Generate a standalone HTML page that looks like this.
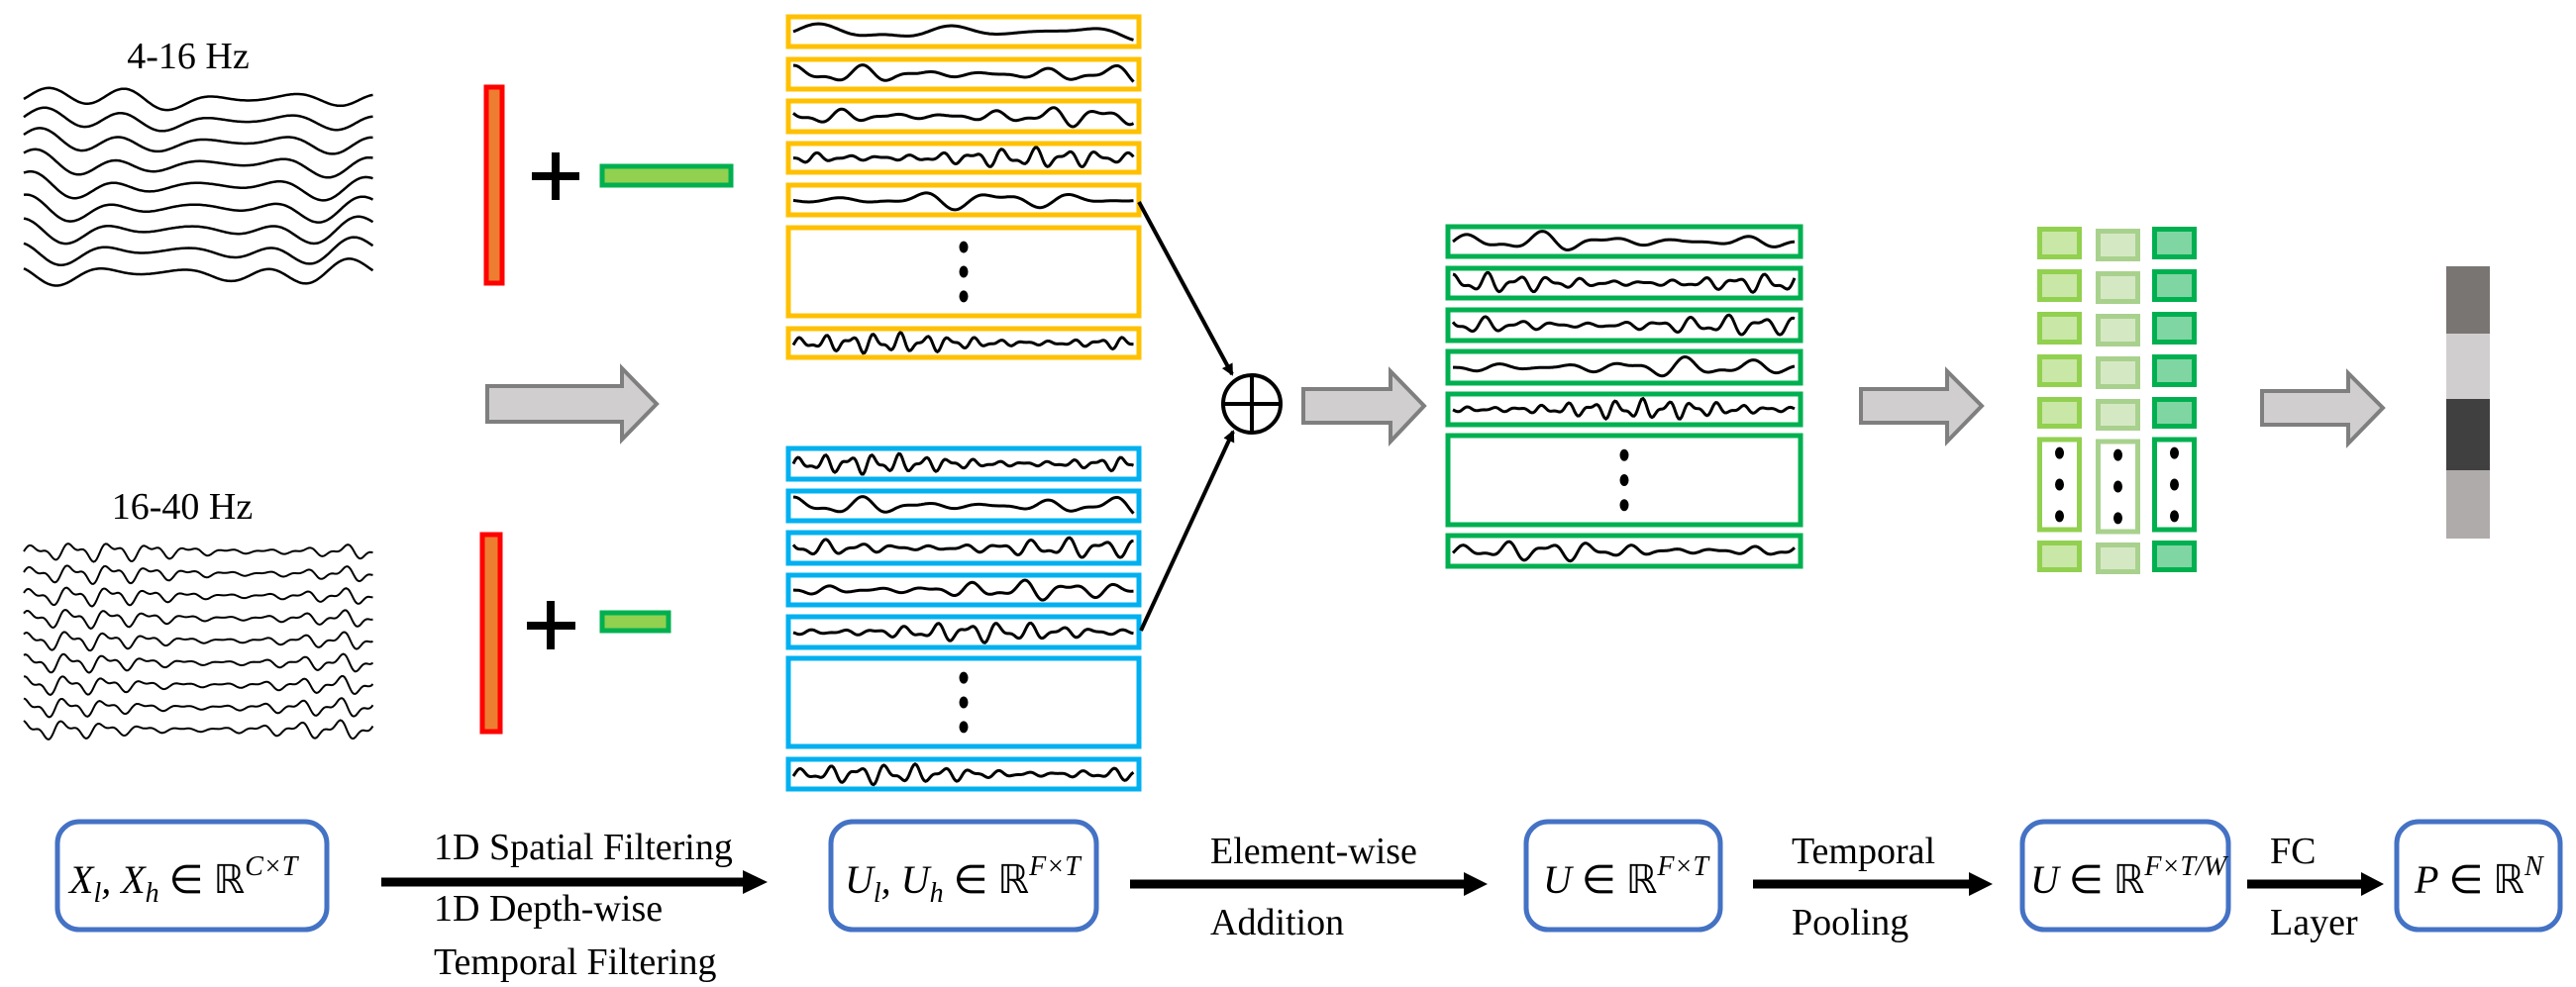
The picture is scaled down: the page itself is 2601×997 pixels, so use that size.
<!DOCTYPE html>
<html><head><meta charset="utf-8">
<style>
html,body{margin:0;padding:0;background:#fff;}
body{width:2601px;height:997px;overflow:hidden;position:relative;font-family:"Liberation Serif",serif;}
svg{position:absolute;left:0;top:0;}
.t{font-family:"Liberation Serif",serif;font-size:38px;fill:#000;}
.m{font-family:"Liberation Serif",serif;font-size:40px;font-style:italic;fill:#000;}
</style></head><body>
<svg id="s" width="2601" height="997" viewBox="0 0 2601 997" xmlns="http://www.w3.org/2000/svg">
<defs>
<marker id="ah" markerWidth="12" markerHeight="12" refX="10" refY="6" orient="auto" markerUnits="userSpaceOnUse"><path d="M0,0 L12,6 L0,12 z" fill="#000"/></marker>
</defs>
<g id="waves" fill="none" stroke="#000" stroke-width="2.5"></g>
<text class="t" x="190" y="69" text-anchor="middle" font-size="40">4-16 Hz</text>
<text class="t" x="184" y="524" text-anchor="middle" font-size="40">16-40 Hz</text>
<rect x="491" y="88" width="16" height="198" fill="#ed7d31" stroke="#ff0000" stroke-width="5"/>
<rect x="487" y="540" width="18" height="199" fill="#ed7d31" stroke="#ff0000" stroke-width="5"/>
<path d="M537,178 H585 M561,154 V202" stroke="#000" stroke-width="8"/>
<path d="M532,632 H581 M556,607 V656" stroke="#000" stroke-width="8"/>
<rect x="608" y="168" width="130" height="19" fill="#92d050" stroke="#00b050" stroke-width="5"/>
<rect x="608" y="619" width="67" height="18" fill="#92d050" stroke="#00b050" stroke-width="5"/>
<g fill="#d0cece" stroke="#7f7f7f" stroke-width="4">
<path d="M492,390 H628 V372 L663,408 L628,444 V426 H492 z"/>
<path d="M1316,393 H1404 V375 L1438,410 L1404,446 V427 H1316 z"/>
<path d="M1879,393 H1966 V375 L2001,410 L1966,446 V427 H1879 z"/>
<path d="M2284,395 H2371 V377 L2406,412 L2371,448 V429 H2284 z"/>
</g>
<g id="boxes" fill="none" stroke-width="5"></g>
<line x1="1150" y1="204" x2="1244" y2="378" stroke="#000" stroke-width="4" marker-end="url(#ah)"/>
<line x1="1152" y1="637" x2="1245" y2="436" stroke="#000" stroke-width="4" marker-end="url(#ah)"/>
<circle cx="1264" cy="408" r="29" fill="#fff" stroke="#000" stroke-width="4"/>
<path d="M1235,408 H1293 M1264,379 V437" stroke="#000" stroke-width="4"/>
<g id="sq"></g>
<rect x="2470" y="269" width="44" height="68" fill="#797573"/>
<rect x="2470" y="337" width="44" height="66" fill="#d0cece"/>
<rect x="2470" y="403" width="44" height="72" fill="#404040"/>
<rect x="2470" y="475" width="44" height="69" fill="#afabab"/>
<g fill="#fff" stroke="#4472c4" stroke-width="5">
<rect x="58" y="830" width="272" height="109" rx="22"/>
<rect x="839" y="830" width="268" height="109" rx="22"/>
<rect x="1541" y="830" width="196" height="109" rx="22"/>
<rect x="2042" y="830" width="208" height="109" rx="22"/>
<rect x="2420" y="830" width="165" height="109" rx="22"/>
</g>
<g stroke="#000" stroke-width="9">
<line x1="385" y1="891" x2="752" y2="891"/>
<line x1="1141" y1="893" x2="1480" y2="893"/>
<line x1="1770" y1="893" x2="1990" y2="893"/>
<line x1="2269" y1="893" x2="2386" y2="893"/>
</g>
<g fill="#000">
<path d="M750,879 L775,891 L750,903 z"/>
<path d="M1478,881 L1502,893 L1478,905 z"/>
<path d="M1988,881 L2012,893 L1988,905 z"/>
<path d="M2384,881 L2407,893 L2384,905 z"/>
</g>
<text class="t" x="438" y="868">1D Spatial Filtering</text>
<text class="t" x="438" y="930">1D Depth-wise</text>
<text class="t" x="438" y="984">Temporal Filtering</text>
<text class="t" x="1222" y="872">Element-wise</text>
<text class="t" x="1222" y="944">Addition</text>
<text class="t" x="1809" y="872">Temporal</text>
<text class="t" x="1809" y="944">Pooling</text>
<text class="t" x="2292" y="872">FC</text>
<text class="t" x="2292" y="944">Layer</text>
<text class="m" x="70" y="902">X<tspan font-size="28" dy="9">l</tspan><tspan dy="-9">, X</tspan><tspan font-size="28" dy="9">h</tspan><tspan dy="-9" font-style="normal"> ∈ ℝ</tspan><tspan font-size="28" dy="-18">C×T</tspan></text>
<text class="m" x="853" y="902">U<tspan font-size="28" dy="9">l</tspan><tspan dy="-9">, U</tspan><tspan font-size="28" dy="9">h</tspan><tspan dy="-9" font-style="normal"> ∈ ℝ</tspan><tspan font-size="28" dy="-18">F×T</tspan></text>
<text class="m" x="1558" y="902">U<tspan font-style="normal"> ∈ ℝ</tspan><tspan font-size="28" dy="-18">F×T</tspan></text>
<text class="m" x="2050" y="902">U<tspan font-style="normal"> ∈ ℝ</tspan><tspan font-size="28" dy="-18">F×T/W</tspan></text>
<text class="m" x="2438" y="902">P<tspan font-style="normal"> ∈ ℝ</tspan><tspan font-size="28" dy="-18">N</tspan></text>
</svg>
<script>
(function(){
var NS="http://www.w3.org/2000/svg";
function el(p,tag,a){var e=document.createElementNS(NS,tag);for(var k in a)e.setAttribute(k,a[k]);p.appendChild(e);return e;}
var W=document.getElementById('waves'),B=document.getElementById('boxes'),S=document.getElementById('sq');
function wave(x0,x1,y,amp,f1,f2,ph,sw){var d="";for(var x=x0;x<=x1;x+=1.5){var t=(x-x0);var v=Math.sin(t*f1+ph)*0.7+Math.sin(t*f2+ph*2)*0.4;var env=0.6+0.4*Math.sin(t*0.02+ph);d+=(x==x0?"M":"L")+x.toFixed(1)+","+(y-v*amp*env).toFixed(1);}
el(W,'path',{d:d,'stroke-width':sw||2.5});}
for(var i=0;i<9;i++){wave(24,377,100+i*22,15,0.075,0.03,i*0.25,2.5);}
for(var i=0;i<9;i++){wave(24,377,557+i*22.5,10,0.16,0.33,i*0.15,2);}
function rows(col,ys,x0,x1,dotRow,freqs){ys.forEach(function(y,i){el(B,'rect',{x:x0,y:y[0],width:x1-x0,height:y[1]-y[0],stroke:col});
if(i==dotRow){var cx=(x0+x1)/2;[0.22,0.5,0.78].forEach(function(f){el(B,'ellipse',{cx:cx,cy:y[0]+(y[1]-y[0])*f,rx:4.5,ry:6,fill:'#000',stroke:'none'});});}
else{var f=freqs[i%freqs.length];wave(x0+5,x1-5,(y[0]+y[1])/2,10,f,f*1.7,i,3);}});}
rows('#ffc000',[[17,47],[60,90],[102,133],[145,174],[187,217],[230,319],[332,361]],796,1150,5,[0.05,0.1,0.12,0.2,0.08,0,0.25]);
rows('#00b0f0',[[453,484],[496,526],[538,569],[581,611],[623,654],[665,754],[767,797]],796,1150,5,[0.25,0.1,0.18,0.13,0.2,0,0.22]);
rows('#00b050',[[229,259],[271,301],[313,344],[355,387],[398,429],[440,530],[541,572]],1462,1818,5,[0.09,0.2,0.18,0.1,0.25,0,0.15]);
var cols=[[2057,'#92d050','#c9e7a6'],[2116,'#a9d18e','#d5e8c4'],[2173,'#00b050','#7fd6a2']];
var rws=[[229,262],[272,305],[315,348],[358,391],[401,433],[444,535],[546,578]];
cols.forEach(function(c,ci){var off=ci==1?2:0;rws.forEach(function(y,i){
if(i==5){el(S,'rect',{x:c[0]+2.5,y:y[0]+off,width:40,height:y[1]-y[0],fill:'#fff',stroke:c[1],'stroke-width':5});
[0.15,0.5,0.85].forEach(function(f){el(S,'ellipse',{cx:c[0]+22.5,cy:y[0]+off+(y[1]-y[0])*f,rx:4.5,ry:6,fill:'#000'});});}
else el(S,'rect',{x:c[0]+2.5,y:y[0]+2.5+off,width:40,height:y[1]-y[0]-5,fill:c[2],stroke:c[1],'stroke-width':5});});});
})();
</script>
</body></html>
